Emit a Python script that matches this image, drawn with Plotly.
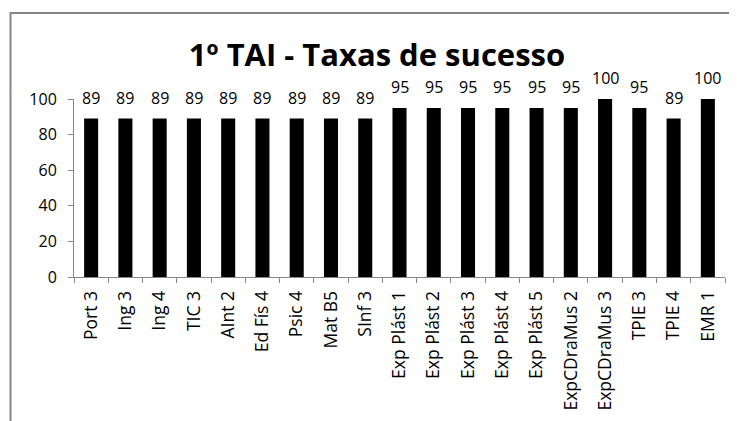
import plotly.graph_objects as go

categories = ["Port 3", "Ing 3", "Ing 4", "TIC 3", "AInt 2", "Ed Fís 4", "Psic 4", "Mat B5",
              "SInf 3", "Exp Plást 1", "Exp Plást 2", "Exp Plást 3", "Exp Plást 4", "Exp Plást 5",
              "ExpCDraMus 2", "ExpCDraMus 3", "TPIE 3", "TPIE 4", "EMR 1"]
values = [89, 89, 89, 89, 89, 89, 89, 89, 89, 95, 95, 95, 95, 95, 95, 100, 95, 89, 100]
y_ticks = [0, 20, 40, 60, 80, 100]
title_text = "1º TAI - Taxas de sucesso"

FONT = "Open Sans"
# page body has an 8px margin, so the figure is drawn 8px right/down in the window
W, H = 729, 413
ml, mr, mt, mb = 66, 12, 91, 144
pw, ph = W - ml - mr, H - mt - mb

fig = go.Figure(go.Bar(x=categories, y=values, marker=dict(color="black", line=dict(width=0)),
                       hoverinfo="x+y"))

annotations = [dict(x=c, y=v, text=str(v), showarrow=False, xref="x", yref="y",
                    yanchor="bottom", yshift=8, font=dict(family=FONT, size=16, color="#000"))
               for c, v in zip(categories, values)]

# chart border (only top and left visible in the window)
x0 = (2.5 - ml) / pw
x1 = (W + 20 - ml) / pw
y1 = (H - mb - 5) / ph
y0 = (H - mb - (H + 20)) / ph

fig.update_layout(
    width=W, height=H,
    margin=dict(l=ml, r=mr, t=mt, b=mb, autoexpand=False),
    paper_bgcolor="white", plot_bgcolor="white",
    bargap=0.59,
    showlegend=False,
    title=dict(text="<b>" + title_text + "</b>", x=369 / W, xanchor="center",
               y=1 - 47 / H, yanchor="middle", font=dict(family=FONT, size=31, color="#000")),
    xaxis=dict(type="category", showgrid=False, showline=True, linecolor="#868686", linewidth=1,
               ticks="outside", ticklen=5, tickcolor="#868686", tickson="boundaries",
               automargin=False, ticklabelstandoff=6,
               tickangle=-90, tickfont=dict(family=FONT, size=17.5, color="#000")),
    yaxis=dict(range=[0, 100], tickvals=y_ticks, showgrid=False, showline=True,
               linecolor="#868686", linewidth=1, ticks="outside", ticklen=5, tickcolor="#868686",
               zeroline=False, automargin=False, ticklabelstandoff=8,
               tickfont=dict(family=FONT, size=16, color="#000")),
    annotations=annotations,
    shapes=[dict(type="rect", xref="paper", yref="paper", x0=x0, x1=x1, y0=y0, y1=y1,
                 line=dict(color="#868686", width=2), layer="below")],
)

fig.write_html("out.html")
